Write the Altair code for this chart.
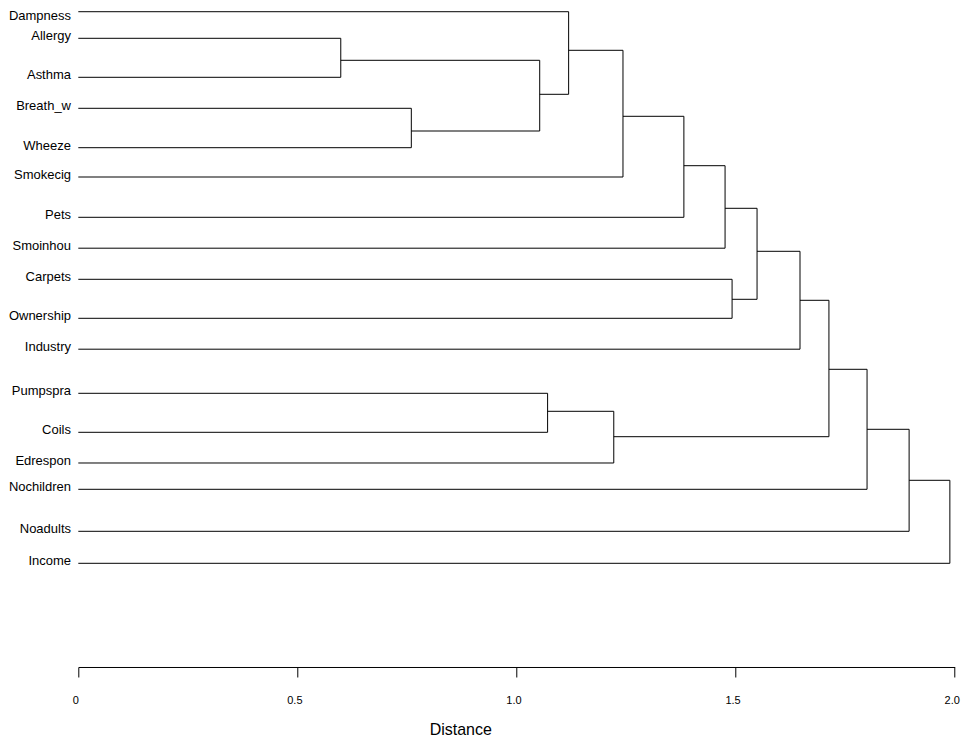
import altair as alt
import pandas as pd

# Leaves, top to bottom, with their vertical positions
leaf_names = ["Dampness", "Allergy", "Asthma", "Breath_w", "Wheeze", "Smokecig",
              "Pets", "Smoinhou", "Carpets", "Ownership", "Industry", "Pumpspra",
              "Coils", "Edrespon", "Nochildren", "Noadults", "Income"]
leaf_pos = [3.7, 30.3, 69.3, 100.3, 139.7, 169.0, 209.3, 240.2, 271.3, 310.3,
            341.2, 385.3, 424.3, 455.0, 481.3, 523.3, 555.3]

# Merges: node N1..N16 joins left and right at a distance, drawn at a position
merge_left = ["Allergy", "Breath_w", "N1", "Dampness", "N4", "N5", "N6", "Carpets",
              "N7", "N9", "Pumpspra", "N11", "N10", "N13", "N14", "N15"]
merge_right = ["Asthma", "Wheeze", "N2", "N3", "Smokecig", "Pets", "Smoinhou",
               "Ownership", "N8", "Industry", "Coils", "Edrespon", "N12",
               "Nochildren", "Noadults", "Income"]
merge_height = [0.599, 0.760, 1.053, 1.119, 1.243, 1.382, 1.476, 1.492, 1.549,
                1.647, 1.071, 1.222, 1.713, 1.800, 1.896, 1.989]
merge_pos = [52.3, 123.0, 86.3, 42.3, 108.3, 157.7, 200.3, 291.3, 243.3, 292.3,
             403.3, 428.7, 361.3, 421.3, 472.3, 513.8]

tick_values = [0, 0.5, 1.0, 1.5, 2.0]

pos = dict(zip(leaf_names, leaf_pos))
hgt = {n: 0.0 for n in leaf_names}
segs = []
for i, (l, r, h, p) in enumerate(zip(merge_left, merge_right, merge_height, merge_pos)):
    name = f"N{i + 1}"
    segs.append({"x": h, "x2": h, "y": pos[l], "y2": pos[r]})
    segs.append({"x": hgt[l], "x2": h, "y": pos[l], "y2": pos[l]})
    segs.append({"x": hgt[r], "x2": h, "y": pos[r], "y2": pos[r]})
    pos[name] = p
    hgt[name] = h

seg_df = pd.DataFrame(segs)
leaf_df = pd.DataFrame({"name": leaf_names, "pos": leaf_pos})
leaf_df["first"] = leaf_df.index == 0

xscale = alt.Scale(domain=[0, 2], nice=False, zero=True)
yscale = alt.Scale(domain=[0, 659], reverse=True, nice=False, zero=False)

lines = alt.Chart(seg_df).mark_rule(color="black", strokeWidth=1).encode(
    x=alt.X("x:Q", scale=xscale, axis=alt.Axis(
        values=tick_values, title="Distance", grid=False,
        labelExpr="datum.value == 0 ? '0' : format(datum.value, '.1f')",
        tickSize=10, tickColor="black", domainColor="black",
        labelFontSize=11, labelFont="Liberation Sans", labelColor="black",
        labelBaseline="middle", labelPadding=24, labelOffset=-3, labelFlush=False,
        titleFontSize=16, titleFont="Liberation Sans", titleFontWeight="normal",
        titleColor="black", titleX=382, titleY=63, titleBaseline="middle",
        titleAlign="center")),
    x2="x2:Q",
    y=alt.Y("y:Q", scale=yscale, axis=None),
    y2="y2:Q",
)

label_base = alt.Chart(leaf_df).encode(
    x=alt.value(-7.3),
    y=alt.Y("pos:Q", scale=yscale, axis=None),
    text="name:N",
)
labels = label_base.transform_filter("!datum.first").mark_text(
    align="right", baseline="middle", dy=-2, fontSize=13,
    font="Liberation Sans", color="black"
)
# the top label is nudged down so that it stays inside the drawing area
top_label = label_base.transform_filter("datum.first").mark_text(
    align="right", baseline="middle", dy=4.5, fontSize=13,
    font="Liberation Sans", color="black"
)

chart = alt.layer(lines, labels, top_label).properties(
    width=876.4, height=659,
    autosize=alt.AutoSizeParams(type="none"),
    padding={"left": 70.3, "top": 0, "right": 6, "bottom": 72},
).configure_view(stroke=None)

chart.save("out.html", embed_options={"renderer": "svg", "actions": False})
